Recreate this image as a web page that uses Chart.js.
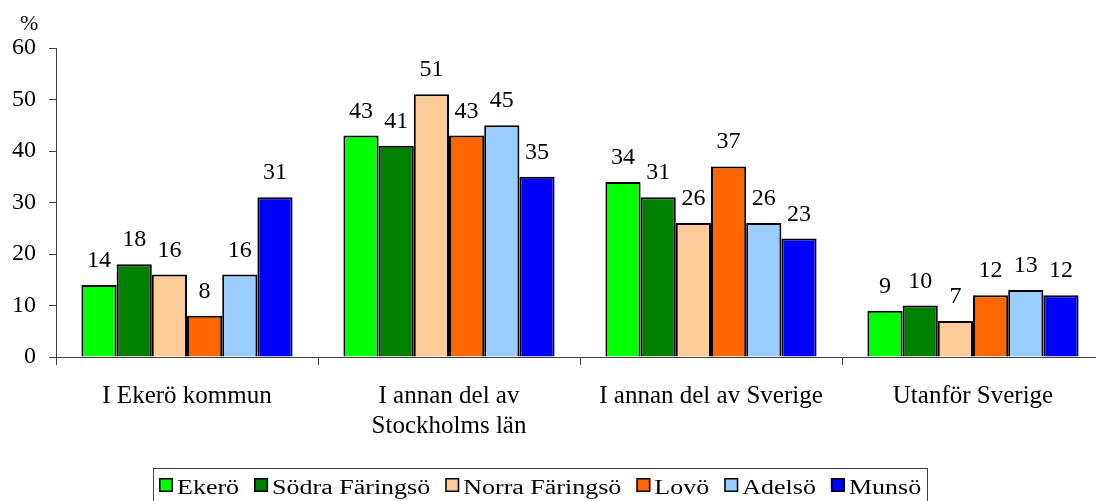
<!DOCTYPE html>
<html><head><meta charset="utf-8">
<script src="https://cdn.jsdelivr.net/npm/chart.js@4/dist/chart.umd.min.js"></script>
<style>html,body{margin:0;padding:0;background:#fff;overflow:hidden}#w{width:1096px;height:501px;overflow:hidden;position:relative}canvas{display:block}</style>
</head><body><div id="w"><canvas id="c" width="1110" height="501" style="width:1110px;height:501px"></canvas></div>
<script>
const categories = [["I Ekerö kommun"], ["I annan del av", "Stockholms län"], ["I annan del av Sverige"], ["Utanför Sverige"]];
const seriesNames = ["Ekerö", "Södra Färingsö", "Norra Färingsö", "Lovö", "Adelsö", "Munsö"];
const ekero = [14, 43, 34, 9];
const sodraFaringso = [18, 41, 31, 10];
const norraFaringso = [16, 51, 26, 7];
const lovo = [8, 43, 37, 12];
const adelso = [16, 45, 26, 13];
const munso = [31, 35, 23, 12];
const yTicks = [0, 10, 20, 30, 40, 50, 60];
const colors = ["#00FF00", "#008000", "#FFCC99", "#FF6600", "#99CCFF", "#0000FF"];
const values = [ekero, sodraFaringso, norraFaringso, lovo, adelso, munso];
const FONT = "'Liberation Serif', 'Times New Roman', serif";
const AXIS = "#404040";

const labelPlugin = {
  id: 'vals',
  afterDraw(chart) {
    const ctx = chart.ctx;
    ctx.save();
    ctx.font = "24px " + FONT;
    ctx.fillStyle = "#000";
    ctx.textAlign = "center";
    ctx.textBaseline = "alphabetic";
    chart.data.datasets.forEach((ds, i) => {
      chart.getDatasetMeta(i).data.forEach((bar, j) => {
        ctx.fillText(String(ds.data[j]), bar.x, bar.y - 18);
      });
    });
    // percent sign (axis unit)
    ctx.textAlign = "left";
    ctx.font = "22px " + FONT;
    ctx.fillText("%", 20, 30);

    // custom legend with border
    const sx = 1.3, fs = 20, box = 14, gapBT = 4, gapItem = 15, pad = 6;
    ctx.font = fs + "px " + FONT;
    const items = chart.data.datasets.map(ds => ({ text: ds.label, color: ds.backgroundColor, w: ctx.measureText(ds.label).width * sx }));
    let total = pad * 2;
    items.forEach((it, i) => { total += box + gapBT + it.w + (i < items.length - 1 ? gapItem : 0); });
    const cx = 540;
    const left = Math.round(cx - total / 2);
    const top = 468;
    ctx.strokeStyle = AXIS;
    ctx.lineWidth = 1;
    ctx.strokeRect(left + 0.5, top + 0.5, Math.round(total), 40);
    let x = left + pad;
    items.forEach(it => {
      ctx.fillStyle = it.color;
      ctx.fillRect(x, 478, box, box);
      ctx.strokeStyle = "#000";
      ctx.lineWidth = 1.5;
      ctx.strokeRect(x + 0.75, 478.75, box - 1.5, box - 1.5);
      ctx.fillStyle = "#000";
      ctx.save();
      ctx.translate(x + box + gapBT, 494);
      ctx.scale(sx, 1);
      ctx.textAlign = "left";
      ctx.fillText(it.text, 0, 0);
      ctx.restore();
      x += box + gapBT + it.w + gapItem;
    });
    ctx.restore();
  }
};

new Chart(document.getElementById('c'), {
  type: 'bar',
  data: {
    labels: categories,
    datasets: seriesNames.map((n, i) => ({
      label: n,
      data: values[i],
      backgroundColor: colors[i],
      borderColor: "#000",
      borderWidth: 2,
      borderSkipped: 'bottom',
      barPercentage: 1,
      categoryPercentage: 0.806
    }))
  },
  options: {
    responsive: false,
    maintainAspectRatio: false,
    animation: false,
    devicePixelRatio: 1,
    layout: { padding: { left: 0, right: 6, top: 48, bottom: 0 } },
    plugins: {
      legend: { display: false },
      tooltip: { enabled: false }
    },
    scales: {
      x: {
        afterFit(scale) { scale.height = 144; },
        grid: { display: true, drawOnChartArea: false, drawTicks: true, tickLength: 8, color: AXIS, offset: true },
        border: { color: AXIS, width: 1 },
        ticks: { font: { family: FONT, size: 25, lineHeight: 1.2 }, color: "#000", padding: 16, maxRotation: 0, autoSkip: false }
      },
      y: {
        min: 0, max: 60,
        afterBuildTicks(scale) { scale.ticks = yTicks.map(v => ({ value: v })); },
        afterFit(scale) { scale.width = 56; },
        grid: { display: true, drawOnChartArea: false, drawTicks: true, tickLength: 7, color: AXIS },
        border: { color: AXIS, width: 1 },
        ticks: { font: { family: FONT, size: 24 }, color: "#000", padding: 13 }
      }
    }
  },
  plugins: [labelPlugin]
});
</script>
</body></html>
